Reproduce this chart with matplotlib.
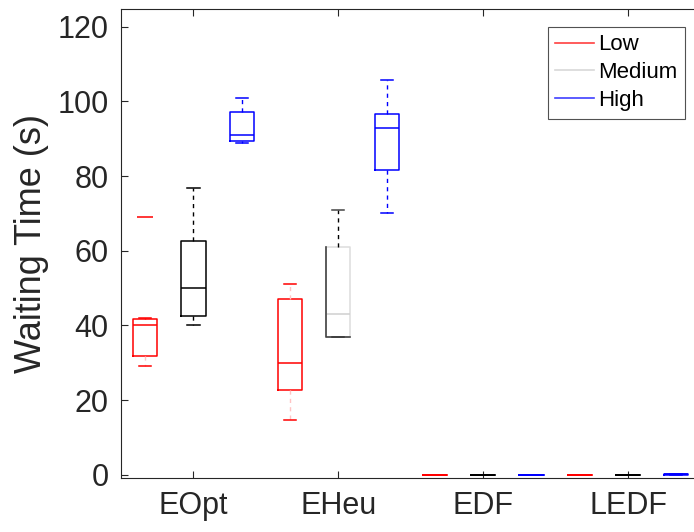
import matplotlib
matplotlib.use("Agg")
import matplotlib.pyplot as plt
from matplotlib.lines import Line2D

plt.rcParams['font.family'] = ['Liberation Sans', 'DejaVu Sans']

groups = ['EOpt', 'EHeu', 'EDF', 'LEDF']
levels = ['Low', 'Medium', 'High']

# five-number summaries per algorithm, one set of lists per load level
low_whislo = [29.0, 14.7, 0.0, 0.0]
low_q1 = [31.8, 22.8, 0.0, 0.0]
low_med = [40.0, 30.0, 0.0, 0.0]
low_q3 = [41.7, 47.2, 0.0, 0.0]
low_whishi = [42.0, 51.0, 0.0, 0.0]
low_fliers = [[69.0], [], [], []]

med_whislo = [40.0, 37.0, 0.0, 0.0]
med_q1 = [42.4, 37.0, 0.0, 0.0]
med_med = [50.0, 43.0, 0.0, 0.0]
med_q3 = [62.6, 61.0, 0.0, 0.0]
med_whishi = [76.8, 71.0, 0.0, 0.0]
med_fliers = [[], [], [], []]

high_whislo = [89.0, 70.0, 0.0, 0.0]
high_q1 = [89.4, 81.6, 0.0, 0.05]
high_med = [91.0, 93.0, 0.0, 0.1]
high_q3 = [97.2, 96.6, 0.0, 0.2]
high_whishi = [101.0, 105.7, 0.0, 0.25]
high_fliers = [[], [], [], []]

series = [
    (low_whislo, low_q1, low_med, low_q3, low_whishi, low_fliers),
    (med_whislo, med_q1, med_med, med_q3, med_whishi, med_fliers),
    (high_whislo, high_q1, high_med, high_q3, high_whishi, high_fliers),
]
colors = ['#ff0000', '#000000', '#0000ff']
legend_colors = ['#ff4040', '#d8d8d8', '#4040ff']
offsets = [-1 / 3, 0.0, 1 / 3]
box_w = 0.167

fig = plt.figure(figsize=(6.94, 5.32), dpi=100)
ax = fig.add_axes([0.1744, 0.1006, 0.835, 0.882])

results = []
for (wlo, q1, med, q3, whi, fl), col, off in zip(series, colors, offsets):
    stats = []
    for i in range(len(groups)):
        stats.append(dict(whislo=wlo[i], q1=q1[i], med=med[i], q3=q3[i],
                          whishi=whi[i], fliers=fl[i]))
    pos = [i + 1 + off for i in range(len(groups))]
    res = ax.bxp(stats, positions=pos, widths=box_w, showfliers=True,
                 manage_ticks=False,
                 boxprops=dict(color=col, linewidth=1.1),
                 medianprops=dict(color=col, linewidth=1.1),
                 whiskerprops=dict(color=col, linewidth=1.0, linestyle=(0, (3, 3))),
                 capprops=dict(color=col, linewidth=1.1),
                 capwidths=box_w / 2,
                 flierprops=dict(marker='_', markeredgecolor=col, markersize=12,
                                 markeredgewidth=1.1))
    results.append(res)

# faint whiskers on the low-load boxes
for w in results[0]['whiskers'][0:1] + results[0]['whiskers'][2:4]:
    w.set_color('#ffc4c4')

# EHeu medium box rendered in a pale grey with darker left and bottom edges
i = 1
x0 = i + 1 - box_w / 2
x1 = i + 1 + box_w / 2
results[1]['boxes'][i].set_color('#dddddd')
results[1]['medians'][i].set_color('#d0d0d0')
results[1]['caps'][2 * i + 1].set_color('#444444')
ax.plot([x0, x0, x1], [med_q3[i], med_q1[i], med_q1[i]],
        color='#444444', linewidth=1.2, zorder=4)

ax.set_xlim(0.5, 4.5)
ax.set_ylim(-1, 124.7)
ax.set_xticks(range(1, len(groups) + 1))
ax.set_xticklabels(groups)
ax.set_yticks(range(0, 121, 20))
ax.tick_params(axis='both', direction='in', length=5, width=0.8,
               color='#262626', labelsize=22, labelcolor='#262626', pad=9,
               top=True, right=True)
for sp in ax.spines.values():
    sp.set_color('#262626')
    sp.set_linewidth(0.8)
ax.set_ylabel('Waiting Time (s)', fontsize=26, color='#262626', labelpad=6)

handles = [Line2D([], [], color=c, linewidth=1.2) for c in legend_colors]
leg = fig.legend(handles, levels, loc='upper left',
                 bbox_to_anchor=(547.7 / 694, 1 - 26.7 / 532), fontsize=16,
                 frameon=True, fancybox=False, handlelength=1.75,
                 handletextpad=0.15, borderpad=0.35, labelspacing=0.3,
                 borderaxespad=0)
leg.get_frame().set_edgecolor('#262626')
leg.get_frame().set_linewidth(0.8)

fig.savefig('out.png', dpi=100)
